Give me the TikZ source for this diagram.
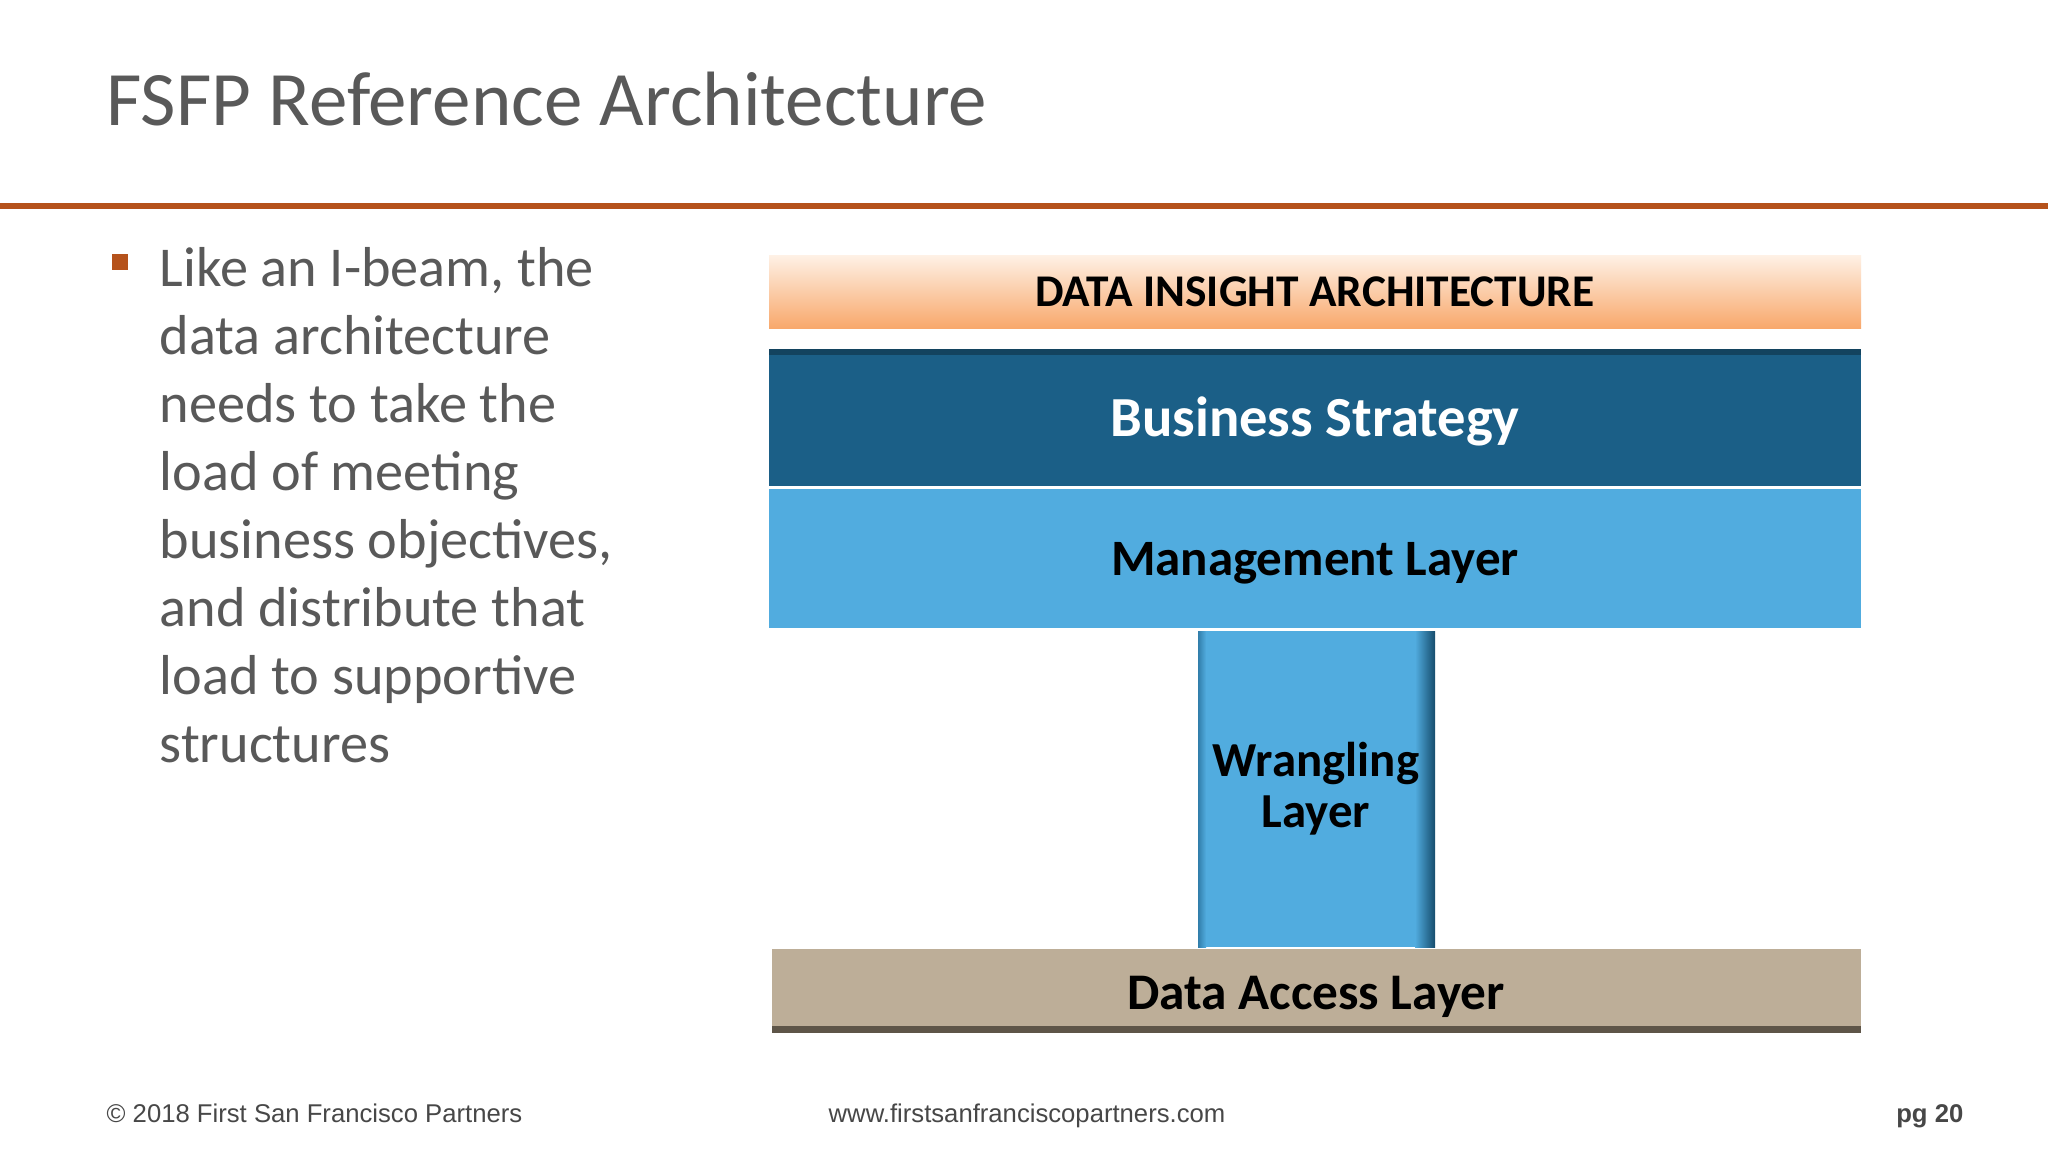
\documentclass[tikz,border=0pt]{standalone}
\usepackage{fontspec}
\setmainfont{Carlito}
\newfontfamily\footfont{Liberation Sans}
\definecolor{titlegray}{HTML}{595959}
\definecolor{rulebrown}{HTML}{B5521B}
\definecolor{orangeA}{HTML}{FEF0E4}
\definecolor{orangeB}{HTML}{F8A76A}
\definecolor{darkblue}{HTML}{1B5F87}
\definecolor{midblue}{HTML}{51ACDF}
\definecolor{tan}{HTML}{BDAE98}
\definecolor{tandark}{HTML}{5E5548}
\begin{document}
\begin{tikzpicture}[x=0.01cm,y=-0.01cm,
  lay/.style={inner sep=0, outer sep=0, text=black, font=\bfseries}]
\useasboundingbox (0,0) rectangle (2048,1152);
\fill[white] (0,0) rectangle (2048,1152);
\node[anchor=base west, text=titlegray, font=\fontsize{21.9}{26}\selectfont, inner sep=0] (title) at (106,126) {FSFP Reference Architecture};
\fill[rulebrown] (0,203) rectangle (2048,209);
\fill[rulebrown] (112,254) rectangle (128,270);
\node[anchor=base west, text=titlegray, align=left, font=\fontsize{16}{19.3}\selectfont, inner sep=0] (bullet) at (159,762)
{Like an I-beam, the\\data architecture\\needs to take the\\load of meeting\\business objectives,\\and distribute that\\load to supportive\\structures};
% layers
\shade[top color=orangeA, bottom color=orangeB] (769,256) rectangle (1861,329);
\node[lay, font=\fontsize{12.9}{16}\selectfont\bfseries] (dia) at (1315,292) {DATA INSIGHT ARCHITECTURE};
\fill[darkblue] (769,349) rectangle (1861,486);
\fill[darkblue!70!black] (769,349) rectangle (1861,355);
\node[lay, text=white, font=\fontsize{16.1}{20}\selectfont\bfseries] (bs) at (1315,421) {Business Strategy};
\fill[midblue] (769,489) rectangle (1861,628);
\node[lay, font=\fontsize{14.5}{18}\selectfont\bfseries] (ml) at (1315,563) {Management Layer};
\fill[midblue] (1198,631) rectangle (1435,947);
\shade[left color=midblue, right color=darkblue!80!black] (1415,631) rectangle (1435,947);
\shade[left color=darkblue!60!midblue, right color=midblue] (1198,631) rectangle (1206,947);
\node[lay, align=center, font=\fontsize{13.9}{14.5}\selectfont\bfseries] (wl) at (1316,789) {Wrangling\\Layer};
\fill[tan] (772,949) rectangle (1861,1033);
\fill[tandark] (772,1026) rectangle (1861,1033);
\node[lay, font=\fontsize{14.6}{18}\selectfont\bfseries] (dal) at (1316,997) {Data Access Layer};
% footer
\node[anchor=base west, inner sep=0, text=titlegray!80!black, font=\footfont\fontsize{7.3}{9}\selectfont] (f1) at (106,1122) {\textcopyright{} 2018 First San Francisco Partners};
\node[anchor=base west, inner sep=0, text=titlegray!80!black, font=\footfont\fontsize{7.3}{9}\selectfont] (f2) at (828,1122) {www.firstsanfranciscopartners.com};
\node[anchor=base east, inner sep=0, text=titlegray!80!black, font=\footfont\bfseries\fontsize{7.3}{9}\selectfont] (f3) at (1964,1122) {pg 20};
\end{tikzpicture}
\end{document}
